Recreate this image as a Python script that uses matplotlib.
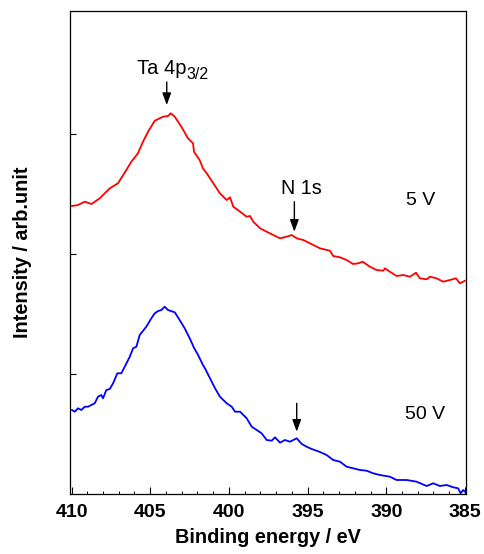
import matplotlib
matplotlib.use("Agg")
import matplotlib.pyplot as plt
from matplotlib.ticker import MultipleLocator

plt.rcParams['font.family'] = ['Liberation Sans', 'DejaVu Sans']

# Binding energy (eV) and intensity (arb. units)
red_E = [409.97, 409.59, 409.16, 408.74, 408.21, 407.89, 407.57, 407.05, 406.52, 406.20,
         405.78, 405.46, 405.14, 404.71, 404.19, 403.87, 403.70, 403.44, 403.02, 402.60,
         402.28, 402.22, 401.86, 401.65, 401.41, 400.99, 400.57, 400.14, 399.93, 399.72,
         399.29, 398.87, 398.66, 398.45, 398.02, 397.60, 397.18, 396.75, 396.33, 396.01,
         395.69, 395.27, 394.85, 394.42, 394.21, 393.58, 393.37, 392.94, 392.52, 392.10,
         391.78, 391.50, 391.04, 390.61, 390.19, 390.08, 389.77, 389.34, 388.92, 388.49,
         388.11, 387.86, 387.43, 387.22, 386.80, 386.38, 385.95, 385.57, 385.32, 385.11,
         385.00]
red_I = [288, 289, 292.3, 290, 295.7, 300.7, 305.7, 310.7, 324, 332.3,
         340.7, 352.3, 362.3, 373.3, 377.3, 378, 380.7, 377.3, 367.3, 355.7,
         350.7, 342.3, 334, 325.7, 320.7, 310.7, 300.7, 294, 296.7, 287.3,
         282.3, 277.3, 278, 272.3, 265.7, 262.3, 259, 255.7, 257.3, 259,
         255.7, 254, 250.7, 247.3, 245.7, 243.3, 238, 236.7, 234, 230,
         230.7, 232.3, 227.3, 224, 223.3, 225.7, 222.3, 218, 219, 217.3,
         221.3, 215.7, 214.7, 217.3, 215.7, 212.3, 214, 215.7, 210.7, 212.3,
         213.3]

blue_E = [409.97, 409.80, 409.59, 409.38, 409.16, 408.95, 408.74, 408.53, 408.32, 408.11,
          408.00, 407.79, 407.57, 407.36, 407.09, 406.84, 406.62, 406.30, 406.09, 405.88,
          405.67, 405.25, 404.93, 404.71, 404.50, 404.29, 404.08, 403.87, 403.44, 403.13,
          402.81, 402.49, 402.22, 401.96, 401.65, 401.52, 401.20, 400.88, 400.57, 400.14,
          399.82, 399.61, 399.29, 398.87, 398.55, 398.23, 397.92, 397.60, 397.28, 397.07,
          396.75, 396.44, 396.12, 395.69, 395.37, 395.06, 394.74, 394.21, 393.79, 393.37,
          392.94, 392.52, 392.10, 391.67, 391.25, 390.83, 390.40, 389.77, 389.34, 388.70,
          388.07, 387.43, 387.01, 386.59, 386.16, 385.74, 385.43, 385.27, 385.11, 385.00]
blue_I = [84, 82.3, 85.7, 84, 87.3, 87.3, 89, 90.7, 97.3, 99,
          95.7, 104, 105, 110.7, 120.7, 120.7, 127.3, 137.3, 145.7, 147.3,
          159, 167.3, 175.7, 180.7, 183, 184, 187.3, 184, 181.7, 174,
          165.7, 155.7, 146.3, 139, 129, 125.7, 115.7, 105.7, 97.3, 90.7,
          87.3, 82.3, 82.3, 75.7, 67.3, 64, 60.7, 54, 53.3, 56.7,
          51.3, 54, 52.3, 55.7, 50, 47.3, 45, 42, 39, 34,
          32.3, 27.3, 25.7, 24, 23.3, 20.7, 19, 17.3, 14, 14,
          12.3, 8, 10.7, 8, 9, 6.7, 5.7, 0.7, 4, 2.3]

x_ticks = [410, 405, 400, 395, 390, 385]
y_ticks = [120, 240, 360]

fig = plt.figure(figsize=(4.84, 5.54), dpi=100)
ax = fig.add_axes([0.1446, 0.1083, 0.8192, 0.8718])

ax.plot(red_E, red_I, color='#ff0000', lw=1.3)
ax.plot(blue_E, blue_I, color='#0000ff', lw=1.3)

ax.set_xlim(410.1, 384.9)
ax.set_ylim(0, 483)
ax.set_xticks(x_ticks)
ax.set_xticklabels([str(t) for t in x_ticks])
ax.xaxis.set_minor_locator(MultipleLocator(1))
ax.set_yticks(y_ticks)
ax.set_yticklabels([])
ax.tick_params(axis='x', which='major', direction='in', length=5, width=0.8,
               labelsize=14, pad=7)
ax.tick_params(axis='x', which='minor', direction='in', length=2.5, width=0.7)
ax.tick_params(axis='y', which='major', direction='in', length=4, width=0.8)
for lab in ax.get_xticklabels():
    lab.set_fontweight('bold')
for s in ax.spines.values():
    s.set_linewidth(0.9)

ax.set_xlabel('Binding energy / eV', fontsize=14.3, fontweight='bold', labelpad=5)
ax.set_ylabel('Intensity / arb.unit', fontsize=14.3, fontweight='bold', labelpad=24)

arrow = dict(arrowstyle='-|>,head_length=0.6,head_width=0.22', color='black',
             lw=1.0, shrinkA=0, shrinkB=0, mutation_scale=12)
ax.annotate('', xy=(403.95, 389), xytext=(403.95, 412), arrowprops=arrow)
ax.annotate('', xy=(395.84, 262.3), xytext=(395.84, 292.3), arrowprops=arrow)
ax.annotate('', xy=(395.69, 62.3), xytext=(395.69, 90.7), arrowprops=arrow)

t_main = ax.text(405.84, 420, 'Ta 4p', fontsize=14.5, ha='left', va='baseline')
ax.annotate('3/2', xy=(1, 0), xycoords=t_main, xytext=(0.2, -0.5),
            textcoords='offset points', fontsize=11.5, ha='left', va='baseline')
ax.text(395.42, 306, 'N 1s', fontsize=14.2, ha='center', va='center')
ax.text(387.8, 294, '5 V', fontsize=14, ha='center', va='center')
ax.text(387.54, 80, '50 V', fontsize=14, ha='center', va='center')

fig.savefig('out.png', dpi=100)
